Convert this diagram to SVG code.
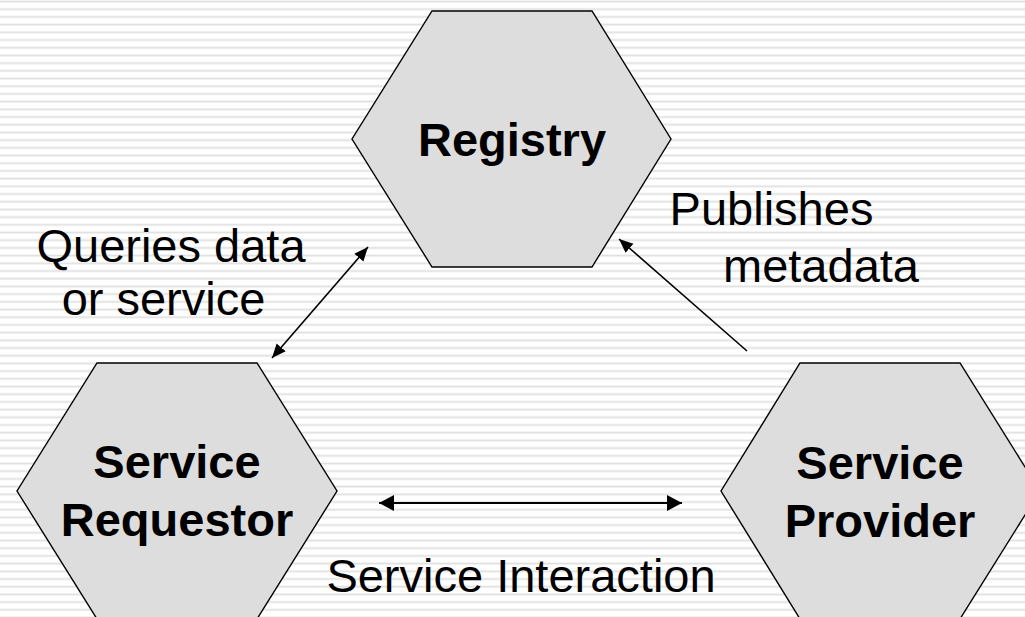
<svg xmlns="http://www.w3.org/2000/svg" width="1025" height="617" viewBox="0 0 1025 617">
<style>
.hex{fill:#dddddd;stroke:#000;stroke-width:1.4}
.title{font-family:"Liberation Sans",Arial,sans-serif;font-weight:bold;font-size:47px;fill:#000;text-anchor:middle}
.lbl{font-family:"Liberation Sans",Arial,sans-serif;font-size:47px;fill:#000;text-anchor:middle}
.conn{stroke:#000;fill:none}
</style>
<defs>
<pattern id="stripes" patternUnits="userSpaceOnUse" width="20" height="7.7">
<rect x="0" y="0" width="20" height="7.7" fill="#ffffff"/>
<rect x="0" y="0.6" width="20" height="1.8" fill="#e0e0e0"/>
</pattern>
<marker id="ahBig" markerUnits="userSpaceOnUse" markerWidth="16" markerHeight="17" refX="15" refY="8" orient="auto-start-reverse" viewBox="0 0 16 17">
<path d="M0,0 L15,8 L0,16 z" fill="#000"/>
</marker>
<marker id="ahSmall" markerUnits="userSpaceOnUse" markerWidth="15" markerHeight="13" refX="14" refY="6" orient="auto-start-reverse" viewBox="0 0 15 13">
<path d="M0,0 L14,6 L0,12 z" fill="#000"/>
</marker>
</defs>
<rect x="0" y="0" width="1025" height="617" fill="url(#stripes)"/>
<g id="registry">
<polygon class="hex" points="432,11 592,11 671,139 592,267 432,267 352,139"/>
<text class="title" x="512" y="156">Registry</text>
</g>
<g id="service-requestor">
<polygon class="hex" points="97,363 257,363 337,491 257,619 97,619 17,491"/>
<text class="title" x="177" y="478">Service</text>
<text class="title" x="177" y="536">Requestor</text>
</g>
<g id="service-provider">
<polygon class="hex" points="800,363 960,363 1040,491 960,619 800,619 721,491"/>
<text class="title" x="880" y="479">Service</text>
<text class="title" x="880" y="537">Provider</text>
</g>
<g id="connectors">
<line class="conn" stroke-width="1.6" x1="272" y1="358" x2="368" y2="247" marker-start="url(#ahSmall)" marker-end="url(#ahSmall)"/>
<line class="conn" stroke-width="1.6" x1="747" y1="351" x2="619" y2="239" marker-end="url(#ahSmall)"/>
<line class="conn" stroke-width="2.2" x1="379" y1="503" x2="682" y2="503" marker-start="url(#ahBig)" marker-end="url(#ahBig)"/>
</g>
<g id="labels">
<text class="lbl" x="171" y="262">Queries data</text>
<text class="lbl" x="163.5" y="315">or service</text>
<text class="lbl" x="771.5" y="225">Publishes</text>
<text class="lbl" x="821" y="282">metadata</text>
<text class="lbl" x="521" y="592">Service Interaction</text>
</g>
</svg>
